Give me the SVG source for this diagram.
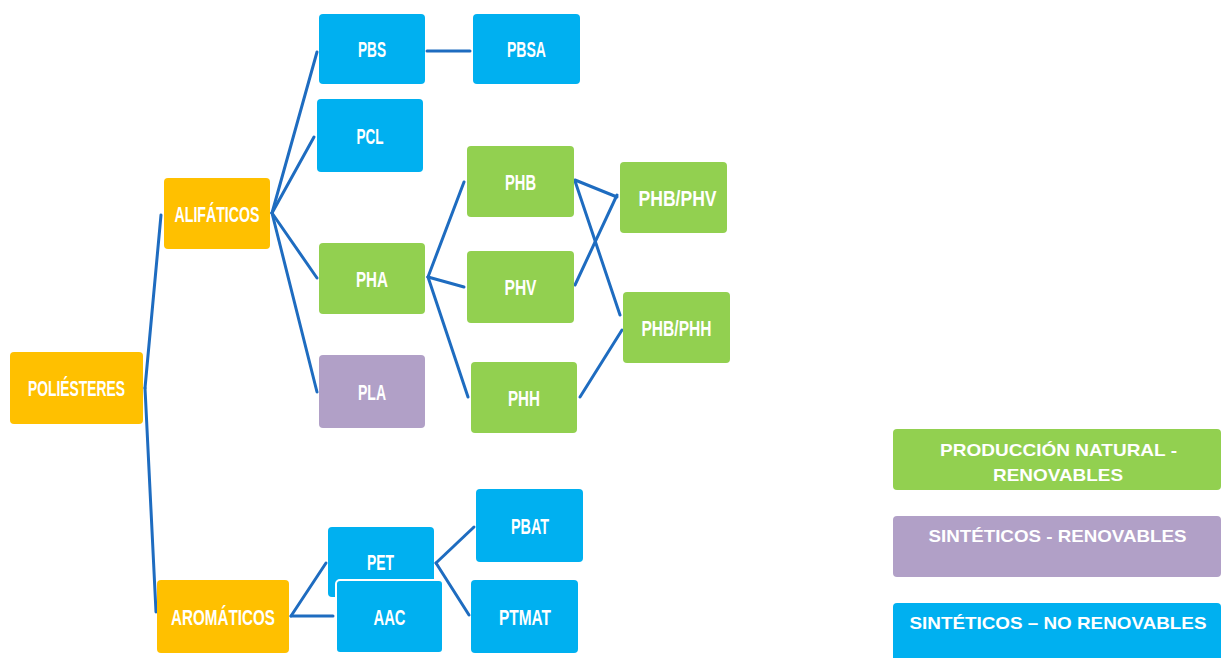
<svg xmlns="http://www.w3.org/2000/svg" width="1221" height="658" viewBox="0 0 1221 658">
<style>
.n{rx:4;ry:4}
.or{fill:#FFC000}
.bl{fill:#00B0F0}
.gr{fill:#92D050}
.pu{fill:#B1A0C7}
.t{font-family:"Liberation Sans",Arial,sans-serif;font-weight:bold;font-size:22px;fill:#FFFFFF;text-anchor:middle}
.lg{font-family:"Liberation Sans",Arial,sans-serif;font-weight:bold;font-size:17px;fill:#FFFFFF;text-anchor:middle}
.c line{stroke:#1E6CC0;stroke-width:3;stroke-linecap:round}
</style>
<rect width="1221" height="658" fill="#FFFFFF"/>
<g class="c" id="connectors">
<line x1="145" y1="388" x2="161" y2="215"/>
<line x1="145" y1="388" x2="156" y2="612"/>
<line x1="272" y1="213" x2="317" y2="52"/>
<line x1="272" y1="213" x2="314" y2="137"/>
<line x1="272" y1="213" x2="317" y2="278"/>
<line x1="272" y1="213" x2="317" y2="392"/>
<line x1="427" y1="51" x2="470" y2="51"/>
<line x1="428" y1="277" x2="464" y2="182"/>
<line x1="428" y1="277" x2="464" y2="287"/>
<line x1="428" y1="277" x2="468" y2="397"/>
<line x1="575" y1="180" x2="617" y2="197"/>
<line x1="575" y1="181" x2="620" y2="315"/>
<line x1="575" y1="285" x2="617" y2="195"/>
<line x1="580" y1="397" x2="622" y2="330"/>
<line x1="291" y1="616" x2="326" y2="563"/>
<line x1="291" y1="616" x2="333" y2="616"/>
<line x1="436" y1="563" x2="474" y2="527"/>
<line x1="436" y1="563" x2="469" y2="615"/>
</g>
<g id="polyesteres"><rect class="n or" x="10" y="352" width="133" height="72"/><text class="t" x="76.5" y="396" textLength="97" lengthAdjust="spacingAndGlyphs">POLIÉSTERES</text></g>
<g id="alifaticos"><rect class="n or" x="164" y="178" width="106" height="71"/><text class="t" x="217" y="221.5" textLength="85" lengthAdjust="spacingAndGlyphs">ALIFÁTICOS</text></g>
<g id="aromaticos"><rect class="n or" x="157" y="580" width="132" height="73"/><text class="t" x="223" y="624.5" textLength="104" lengthAdjust="spacingAndGlyphs">AROMÁTICOS</text></g>
<g id="pbs"><rect class="n bl" x="319" y="14" width="106" height="70"/><text class="t" x="372" y="57" textLength="28" lengthAdjust="spacingAndGlyphs">PBS</text></g>
<g id="pbsa"><rect class="n bl" x="473" y="14" width="107" height="70"/><text class="t" x="526.5" y="57" textLength="39" lengthAdjust="spacingAndGlyphs">PBSA</text></g>
<g id="pcl"><rect class="n bl" x="317" y="99" width="106" height="73"/><text class="t" x="370" y="143.5" textLength="27" lengthAdjust="spacingAndGlyphs">PCL</text></g>
<g id="pha"><rect class="n gr" x="319" y="243" width="106" height="71"/><text class="t" x="372" y="286.5" textLength="32" lengthAdjust="spacingAndGlyphs">PHA</text></g>
<g id="pla"><rect class="n pu" x="319" y="355" width="106" height="73"/><text class="t" x="372" y="399.5" textLength="28" lengthAdjust="spacingAndGlyphs">PLA</text></g>
<g id="phb"><rect class="n gr" x="467" y="146" width="107" height="71"/><text class="t" x="520.5" y="189.5" textLength="31" lengthAdjust="spacingAndGlyphs">PHB</text></g>
<g id="phv"><rect class="n gr" x="467" y="251" width="107" height="72"/><text class="t" x="520.5" y="295" textLength="32" lengthAdjust="spacingAndGlyphs">PHV</text></g>
<g id="phh"><rect class="n gr" x="471" y="362" width="106" height="71"/><text class="t" x="524" y="405.5" textLength="32" lengthAdjust="spacingAndGlyphs">PHH</text></g>
<g id="phb-phv"><rect class="n gr" x="620" y="162" width="107" height="71"/><text class="t" x="677.5" y="205.5" textLength="78" lengthAdjust="spacingAndGlyphs">PHB/PHV</text></g>
<g id="phb-phh"><rect class="n gr" x="623" y="292" width="107" height="71"/><text class="t" x="676.5" y="335.5" textLength="70" lengthAdjust="spacingAndGlyphs">PHB/PHH</text></g>
<g id="pet"><rect class="n bl" x="328" y="527" width="106" height="70"/><text class="t" x="380.5" y="570" textLength="27" lengthAdjust="spacingAndGlyphs">PET</text></g>
<g id="aac"><rect class="n bl" x="336" y="580" width="107" height="73" stroke="#FFFFFF" stroke-width="2"/><text class="t" x="389.5" y="624.5" textLength="32" lengthAdjust="spacingAndGlyphs">AAC</text></g>
<g id="pbat"><rect class="n bl" x="476" y="489" width="107" height="73"/><text class="t" x="530" y="533.5" textLength="38" lengthAdjust="spacingAndGlyphs">PBAT</text></g>
<g id="ptmat"><rect class="n bl" x="471" y="580" width="107" height="73"/><text class="t" x="525" y="624.5" textLength="52" lengthAdjust="spacingAndGlyphs">PTMAT</text></g>
<g id="legend-natural"><rect class="n gr" x="893" y="429" width="328" height="61"/><text class="lg" x="1058.5" y="456" textLength="237" lengthAdjust="spacingAndGlyphs">PRODUCCIÓN NATURAL -</text><text class="lg" x="1058" y="481" textLength="130" lengthAdjust="spacingAndGlyphs">RENOVABLES</text></g>
<g id="legend-sint-ren"><rect class="n pu" x="893" y="516" width="328" height="61"/><text class="lg" x="1057.5" y="541.5" textLength="258" lengthAdjust="spacingAndGlyphs">SINTÉTICOS - RENOVABLES</text></g>
<g id="legend-sint-noren"><rect class="n bl" x="893" y="603" width="328" height="65"/><text class="lg" x="1058" y="629" textLength="297" lengthAdjust="spacingAndGlyphs">SINTÉTICOS – NO RENOVABLES</text></g>
</svg>
